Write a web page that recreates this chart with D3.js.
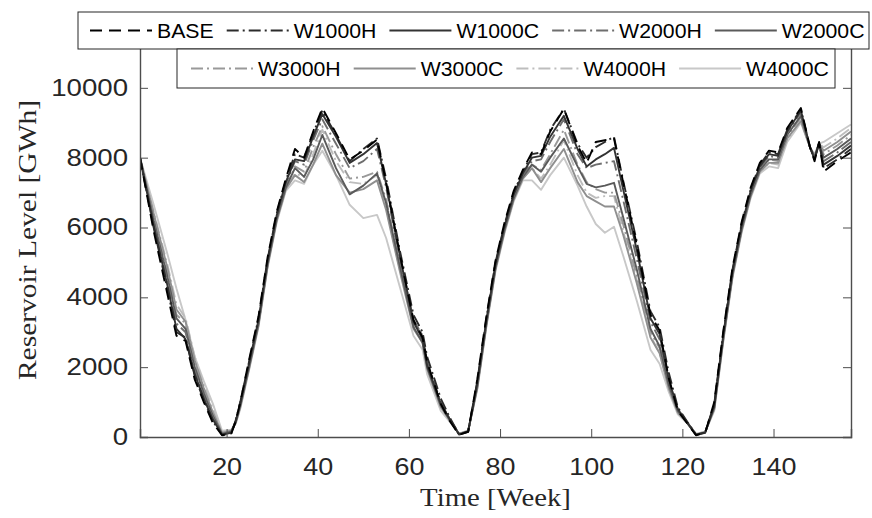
<!DOCTYPE html>
<html>
<head>
<meta charset="utf-8">
<script src="https://cdn.jsdelivr.net/npm/d3@7"></script>
<style>
body { margin: 0; background: #fff; }
</style>
</head>
<body>
<svg id="chart" width="872" height="518"></svg>
<script>
var weeks = [1,4,7,9,11,13,15,17,19,21,22,23,25,27,29,31,33,35,37,39,41,44,47,50,53,
  55,58,61,63,64,67,69,71,73,75,77,79,81,83,85,87,89,91,94,97,99,101,103,105,
  107,110,113,115,117,119,121,123,125,127,129,131,133,135,137,139,141,143,146,148,149,150,151,154,157];

var base_level = [8000,5900,4100,2900,2750,1650,1000,400,50,80,450,1000,2250,3450,5150,6450,7400,8250,8000,8750,9420,8700,7950,8200,8520,
  7300,5250,3350,2850,2150,950,450,60,150,1650,3450,5050,6150,7050,7650,8150,8100,8750,9400,8350,7850,8450,8500,8550,
  7300,5500,3500,3050,1700,750,400,50,120,1000,3050,4850,6150,7150,7850,8200,8150,8850,9420,8300,7900,8450,7600,7900,8150];
var w1000h_level = [8000,6000,4250,3000,2850,1750,1050,450,60,100,480,1000,2200,3400,5100,6400,7350,8100,8000,8700,9350,8650,7900,8250,8550,
  7400,5350,3500,3000,2300,1100,550,80,160,1600,3400,5000,6100,7000,7600,8100,8150,8800,9400,8400,8000,8300,8450,8600,
  7350,5600,3600,3150,1850,850,450,60,130,950,3000,4800,6100,7100,7800,8150,8100,8800,9380,8300,7950,8450,7700,7950,8250];
var w1000c_level = [8000,6050,4350,3100,2800,1800,1100,500,70,120,450,950,2150,3350,5050,6350,7300,7950,7900,8600,9250,8600,7850,8100,8420,
  7250,5200,3300,2800,2050,950,500,70,150,1550,3350,4950,6050,6950,7550,8000,8050,8600,9200,8250,7750,7950,8100,8280,
  7100,5350,3400,2950,1650,800,420,60,120,900,2950,4750,6050,7050,7750,8100,8050,8750,9350,8300,7950,8400,7800,8050,8350];
var w2000h_level = [8000,6150,4450,3250,3000,1900,1150,550,80,130,450,950,2100,3300,5000,6300,7250,7900,7800,8500,9100,8400,7700,7900,8250,
  7150,5100,3350,2900,2150,1000,500,80,160,1500,3300,4900,6000,6900,7500,7900,7950,8450,9100,8100,7700,7800,7850,7900,
  6800,5100,3300,2800,1600,800,430,70,130,900,2900,4700,6000,7000,7700,8050,8000,8700,9300,8300,8000,8400,7900,8150,8450];
var w2000c_level = [8000,6200,4600,3400,3100,2000,1250,600,90,150,430,900,2050,3250,4950,6250,7150,7700,7450,7950,8650,7700,6950,7200,7550,
  6700,4900,3150,2700,2000,900,480,80,160,1450,3250,4850,5950,6850,7450,7800,7600,8000,8550,7750,7250,7150,7200,7280,
  6300,4800,3100,2600,1500,750,420,70,130,850,2850,4650,5950,6950,7650,7950,7950,8650,9200,8300,8000,8400,8000,8250,8550];
var w3000h_level = [8000,6300,4700,3500,3250,2100,1300,650,100,160,430,900,2050,3250,4950,6250,7150,7750,7600,8300,8900,8100,7400,7450,7600,
  6800,4950,3300,2900,2100,950,500,90,170,1450,3250,4850,5950,6850,7450,7800,7650,8100,8800,7800,7300,7100,7000,7000,
  6100,4600,3000,2550,1500,750,430,80,140,850,2850,4650,5950,6950,7650,7950,7900,8600,9150,8300,8050,8400,8100,8350,8650];
var w3000c_level = [8000,6400,4850,3650,3300,2200,1400,700,120,180,400,850,2000,3200,4900,6200,7100,7500,7300,7800,8400,7500,7000,7100,7350,
  6500,4750,3100,2700,1950,850,470,90,170,1400,3200,4800,5900,6800,7400,7700,7300,7700,8250,7300,6900,6750,6600,6600,
  5800,4400,2850,2400,1400,700,420,80,140,800,2800,4600,5900,6900,7600,7850,7850,8550,9050,8300,8050,8400,8200,8450,8750];
var w4000h_level = [8000,6450,4950,3800,3400,2300,1500,800,140,200,400,850,2000,3200,4900,6200,7100,7550,7450,8100,8800,7900,7300,7250,7500,
  6600,4800,3200,2800,2050,900,480,100,180,1400,3200,4800,5900,6800,7400,7700,7400,7800,8500,7500,7000,6850,6900,6900,
  5900,4500,2900,2400,1450,720,430,90,150,800,2800,4600,5900,6900,7600,7850,7800,8500,9050,8300,8050,8400,8300,8550,8850];
var w4000c_level = [8000,6650,5250,4250,3350,2300,1600,950,180,200,380,800,1950,3150,4850,6150,7050,7350,7250,7800,8200,7500,6650,6270,6360,
  5700,4300,2900,2500,1800,750,430,100,180,1350,3150,4750,5850,6750,7350,7350,7080,7500,8000,7200,6600,6100,5850,6020,
  5200,3900,2500,2100,1300,650,400,90,150,750,2750,4550,5850,6850,7550,7750,7700,8450,9000,8300,8100,8400,8450,8700,8950];

var series_names = ["BASE","W1000H","W1000C","W2000H","W2000C","W3000H","W3000C","W4000H","W4000C"];
var series_values = [base_level,w1000h_level,w1000c_level,w2000h_level,w2000c_level,w3000h_level,w3000c_level,w4000h_level,w4000c_level];
var x_ticks = [20,40,60,80,100,120,140];
var y_ticks = [0,2000,4000,6000,8000,10000];

// styles
var series_colors = ["#000000","#2b2b2b","#333333","#6e6e6e","#5a5a5a","#999999","#8f8f8f","#bdbdbd","#c8c8c8"];
var series_dash = ["12,7","12,4,2,4",null,"12,4,2,4",null,"12,4,2,4",null,"12,4,2,4",null];

var plot_l = 140, plot_r = 851, plot_t = 18, plot_b = 437;
var svg = d3.select('#chart');
var x = d3.scaleLinear().domain([1,157]).range([plot_l,plot_r]);
var y = d3.scaleLinear().domain([0,12000]).range([plot_b,plot_t]);

// widen text a little, the figure was stretched horizontally
function stretch(sel, k) {
  var total = 0;
  sel.each(function() {
    var w = this.getComputedTextLength() * k;
    d3.select(this).attr('textLength', w).attr('lengthAdjust','spacingAndGlyphs');
    total = w;
  });
  return total;
}

svg.append('clipPath').attr('id','plotclip')
  .append('rect').attr('x',plot_l).attr('y',plot_t).attr('width',plot_r-plot_l).attr('height',plot_b-plot_t);

var line = d3.line()
  .x(function(d,i) { return x(weeks[i]); })
  .y(function(d) { return y(d); });

var g_lines = svg.append('g').attr('clip-path','url(#plotclip)');
for (var i = series_values.length-1; i >= 0; i--) {
  g_lines.append('path')
    .attr('d', line(series_values[i]))
    .attr('fill','none')
    .attr('stroke', series_colors[i])
    .attr('stroke-width', 1.9)
    .attr('stroke-dasharray', series_dash[i])
    .attr('stroke-linejoin','round');
}

// axes box
var axis_color = '#4d4d4d';
var g_x = svg.append('g').attr('transform','translate(0,'+plot_b+')')
  .call(d3.axisBottom(x).tickValues(x_ticks).tickSize(-8).tickPadding(22));
var g_y = svg.append('g').attr('transform','translate('+plot_l+',0)')
  .call(d3.axisLeft(y).tickValues(y_ticks).tickSize(-8).tickPadding(12).tickFormat(d3.format('d')));
svg.append('g').attr('transform','translate('+plot_r+',0)')
  .call(d3.axisRight(y).tickValues(y_ticks).tickSize(-8).tickFormat(''));
svg.append('g').attr('transform','translate(0,'+plot_t+')')
  .call(d3.axisTop(x).tickValues(x_ticks).tickSize(-8).tickFormat(''));
svg.selectAll('.domain').attr('stroke',axis_color).attr('stroke-width',1.4);
svg.selectAll('.tick line').attr('stroke',axis_color).attr('stroke-width',1);
svg.selectAll('.tick text').attr('fill','#262626')
  .style('font-family','"Liberation Sans", Arial, sans-serif').style('font-size','23px');
stretch(g_x.selectAll('.tick text'), 1.17);
stretch(g_y.selectAll('.tick text'), 1.2);

// axis titles
var tx = svg.append('text').attr('x',(plot_l+plot_r)/2).attr('y',506).attr('text-anchor','middle')
  .style('font-family','"Liberation Serif", "Times New Roman", serif').style('font-size','25px')
  .attr('fill','#262626').text('Time [Week]');
stretch(tx, 1.15);
var ty = svg.append('text').attr('transform','translate(36,240) rotate(-90)').attr('text-anchor','middle')
  .style('font-family','"Liberation Serif", "Times New Roman", serif').style('font-size','25px')
  .attr('fill','#262626').text('Reservoir Level [GWh]');
stretch(ty, 1.18);

// legends (two rows, as in the figure)
function drawLegend(names, x0, y0, x1, y1, start) {
  var g = svg.append('g');
  g.append('rect').attr('x',x0).attr('y',y0).attr('width',x1-x0).attr('height',y1-y0)
    .attr('fill','#fff').attr('stroke','#262626').attr('stroke-width',1);
  var cy = (y0+y1)/2;
  var pos = start;
  names.forEach(function(n) {
    var i = series_names.indexOf(n);
    g.append('line').attr('x1',pos).attr('x2',pos+62).attr('y1',cy).attr('y2',cy)
      .attr('stroke',series_colors[i]).attr('stroke-width',1.8)
      .attr('stroke-dasharray',series_dash[i]);
    var t = g.append('text').attr('x',pos+67).attr('y',cy+7)
      .style('font-family','"Liberation Sans", Arial, sans-serif').style('font-size','19.5px')
      .attr('fill','#000').text(n);
    var w = stretch(t, 1.09);
    pos = pos + 67 + w + 13;
  });
}
drawLegend(series_names.slice(0,5), 78, 12, 869, 49, 90);
drawLegend(series_names.slice(5), 177, 49, 835, 88, 191);
</script>
</body>
</html>
